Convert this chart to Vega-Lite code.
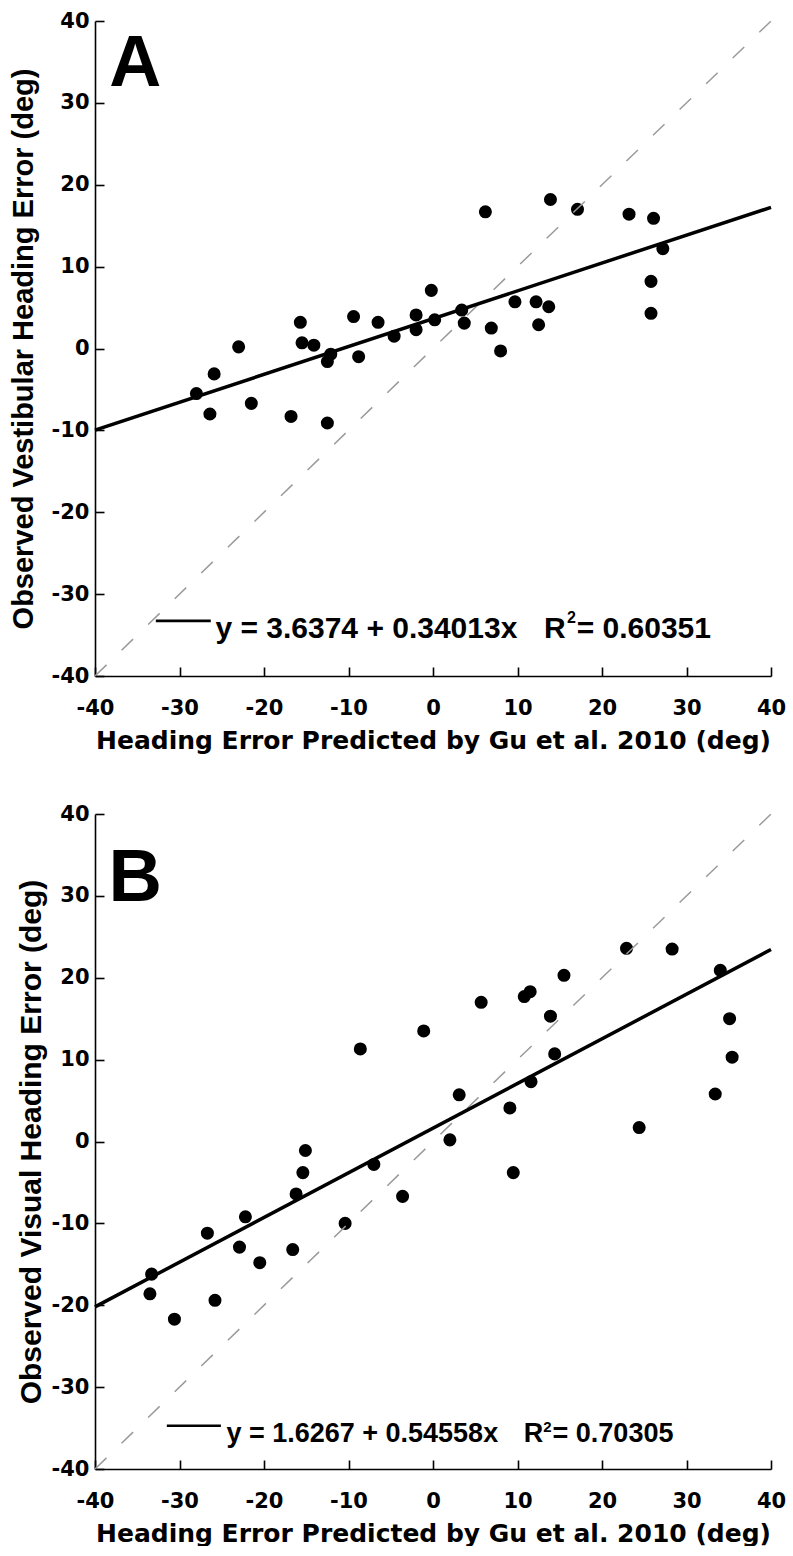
{
  "$schema": "https://vega.github.io/schema/vega-lite/v6.json",
  "padding": {"left": 9, "top": 10, "right": 0, "bottom": 0},
  "spacing": 50,
  "config": {
    "view": {"stroke": null},
    "axis": {"grid": false, "domainColor": "black", "domainWidth": 1.6, "tickColor": "black", "tickWidth": 1.6, "tickSize": -9, "labelFont": "DejaVu Sans", "labelFontWeight": "bold", "labelFontSize": 21, "labelColor": "black", "titleColor": "black", "titleFontWeight": "bold", "labelFlush": false, "labelOverlap": false, "labelExpr": "datum.value + ''"},
    "axisX": {"labelPadding": 30, "titleFont": "DejaVu Sans", "titleFontSize": 25, "titleBaseline": "alphabetic", "titleY": 72},
    "axisY": {"labelPadding": 15, "titleFont": "Liberation Sans", "titleBaseline": "alphabetic"}
  },
  "datasets": {
    "ptsA": [
      {"x": -28.0, "y": -5.5}, {"x": -26.4, "y": -8.0}, {"x": -25.9, "y": -3.1}, {"x": -23.0, "y": 0.2}, {"x": -21.5, "y": -6.7}, {"x": -16.8, "y": -8.3}, {"x": -15.7, "y": 3.2}, {"x": -15.5, "y": 0.7}, {"x": -14.1, "y": 0.4}, {"x": -12.5, "y": -1.6}, {"x": -12.1, "y": -0.7}, {"x": -12.5, "y": -9.1}, {"x": -9.4, "y": 3.9}, {"x": -8.8, "y": -1.0}, {"x": -6.5, "y": 3.2}, {"x": -4.6, "y": 1.5}, {"x": -2.0, "y": 4.1}, {"x": -2.0, "y": 2.3}, {"x": -0.2, "y": 7.1}, {"x": 0.2, "y": 3.5}, {"x": 3.4, "y": 4.7}, {"x": 3.7, "y": 3.1}, {"x": 6.2, "y": 16.7}, {"x": 6.9, "y": 2.5}, {"x": 8.0, "y": -0.3}, {"x": 9.7, "y": 5.7}, {"x": 12.2, "y": 5.7}, {"x": 13.7, "y": 5.1}, {"x": 12.5, "y": 2.9}, {"x": 13.9, "y": 18.2}, {"x": 17.1, "y": 17.0}, {"x": 23.2, "y": 16.4}, {"x": 26.1, "y": 15.9}, {"x": 27.2, "y": 12.2}, {"x": 25.8, "y": 8.2}, {"x": 25.8, "y": 4.3}
    ],
    "ptsB": [
      {"x": -33.3, "y": -16.2}, {"x": -33.5, "y": -18.6}, {"x": -30.6, "y": -21.7}, {"x": -26.7, "y": -11.2}, {"x": -25.8, "y": -19.4}, {"x": -22.9, "y": -12.9}, {"x": -22.2, "y": -9.2}, {"x": -20.5, "y": -14.8}, {"x": -16.6, "y": -13.2}, {"x": -16.2, "y": -6.4}, {"x": -15.4, "y": -3.8}, {"x": -15.1, "y": -1.1}, {"x": -10.4, "y": -10.0}, {"x": -8.6, "y": 11.3}, {"x": -7.0, "y": -2.8}, {"x": -3.6, "y": -6.7}, {"x": -1.1, "y": 13.5}, {"x": 2.0, "y": 0.2}, {"x": 3.1, "y": 5.7}, {"x": 5.7, "y": 17.0}, {"x": 9.1, "y": 4.1}, {"x": 9.5, "y": -3.8}, {"x": 10.8, "y": 17.7}, {"x": 11.5, "y": 18.3}, {"x": 11.6, "y": 7.3}, {"x": 13.9, "y": 15.3}, {"x": 14.4, "y": 10.7}, {"x": 15.5, "y": 20.3}, {"x": 22.9, "y": 23.6}, {"x": 24.4, "y": 1.7}, {"x": 28.3, "y": 23.5}, {"x": 33.4, "y": 5.8}, {"x": 34.0, "y": 20.9}, {"x": 35.1, "y": 15.0}, {"x": 35.4, "y": 10.3}
    ],
    "fitA": [{"x": -40, "y": -9.9678}, {"x": 40, "y": 17.2426}],
    "fitB": [{"x": -40, "y": -20.1965}, {"x": 40, "y": 23.4499}],
    "diag": [{"x": -40, "y": -40}, {"x": 40, "y": 40}],
    "one": [{"n": 1}]
  },
  "vconcat": [
    {
      "width": 676, "height": 655,
      "layer": [
        {
          "data": {"name": "ptsA"},
          "mark": {"type": "circle", "color": "black", "opacity": 1, "size": 170},
          "encoding": {
            "x": {"field": "x", "type": "quantitative", "scale": {"domain": [-40, 40], "nice": false, "zero": false}, "axis": {"title": "Heading Error Predicted by Gu et al. 2010 (deg)", "values": [-40, -30, -20, -10, 0, 10, 20, 30, 40]}},
            "y": {"field": "y", "type": "quantitative", "scale": {"domain": [-40, 40], "nice": false, "zero": false}, "axis": {"title": "Observed Vestibular Heading Error (deg)", "values": [-40, -30, -20, -10, 0, 10, 20, 30, 40], "titleX": -63, "titleFontSize": 29}}
          }
        },
        {
          "data": {"name": "diag"},
          "mark": {"type": "line", "color": "#9a9a9a", "strokeWidth": 1.5, "strokeDash": [16, 21]},
          "encoding": {
            "x": {"field": "x", "type": "quantitative"},
            "y": {"field": "y", "type": "quantitative"}
          }
        },
        {
          "data": {"name": "fitA"},
          "mark": {"type": "line", "color": "black", "strokeWidth": 3.5},
          "encoding": {
            "x": {"field": "x", "type": "quantitative"},
            "y": {"field": "y", "type": "quantitative"}
          }
        },
        {
          "data": {"name": "one"},
          "mark": {"type": "rule", "color": "black", "strokeWidth": 2.7},
          "encoding": {
            "x": {"datum": -32.8},
            "x2": {"datum": -26.3},
            "y": {"datum": -33.26}
          }
        },
        {
          "data": {"name": "one"},
          "mark": {"type": "text", "font": "Liberation Sans", "fontWeight": "bold", "fontSize": 30, "align": "left", "baseline": "alphabetic", "color": "black"},
          "encoding": {
            "x": {"datum": -25.75},
            "y": {"datum": -35.3},
            "text": {"value": "y = 3.6374 + 0.34013x"}
          }
        },
        {
          "data": {"name": "one"},
          "mark": {"type": "text", "font": "Liberation Sans", "fontWeight": "bold", "fontSize": 30, "align": "left", "baseline": "alphabetic", "color": "black"},
          "encoding": {
            "x": {"datum": 13.15},
            "y": {"datum": -35.3},
            "text": {"value": "R"}
          }
        },
        {
          "data": {"name": "one"},
          "mark": {"type": "text", "font": "Liberation Sans", "fontWeight": "bold", "fontSize": 16, "align": "left", "baseline": "alphabetic", "color": "black"},
          "encoding": {
            "x": {"datum": 15.85},
            "y": {"datum": -33.5},
            "text": {"value": "2"}
          }
        },
        {
          "data": {"name": "one"},
          "mark": {"type": "text", "font": "Liberation Sans", "fontWeight": "bold", "fontSize": 30, "align": "left", "baseline": "alphabetic", "color": "black"},
          "encoding": {
            "x": {"datum": 17.0},
            "y": {"datum": -35.3},
            "text": {"value": "= 0.60351"}
          }
        },
        {
          "data": {"name": "one"},
          "mark": {"type": "text", "font": "Liberation Sans", "fontWeight": "bold", "fontSize": 72, "align": "left", "baseline": "alphabetic", "color": "black"},
          "encoding": {
            "x": {"datum": -38.3},
            "y": {"datum": 32.06},
            "text": {"value": "A"}
          }
        }
      ]
    },
    {
      "width": 676, "height": 655,
      "layer": [
        {
          "data": {"name": "ptsB"},
          "mark": {"type": "circle", "color": "black", "opacity": 1, "size": 170},
          "encoding": {
            "x": {"field": "x", "type": "quantitative", "scale": {"domain": [-40, 40], "nice": false, "zero": false}, "axis": {"title": "Heading Error Predicted by Gu et al. 2010 (deg)", "values": [-40, -30, -20, -10, 0, 10, 20, 30, 40]}},
            "y": {"field": "y", "type": "quantitative", "scale": {"domain": [-40, 40], "nice": false, "zero": false}, "axis": {"title": "Observed Visual Heading Error (deg)", "values": [-40, -30, -20, -10, 0, 10, 20, 30, 40], "titleX": -54.5, "titleFontSize": 30}}
          }
        },
        {
          "data": {"name": "diag"},
          "mark": {"type": "line", "color": "#9a9a9a", "strokeWidth": 1.5, "strokeDash": [16, 21]},
          "encoding": {
            "x": {"field": "x", "type": "quantitative"},
            "y": {"field": "y", "type": "quantitative"}
          }
        },
        {
          "data": {"name": "fitB"},
          "mark": {"type": "line", "color": "black", "strokeWidth": 3.5},
          "encoding": {
            "x": {"field": "x", "type": "quantitative"},
            "y": {"field": "y", "type": "quantitative"}
          }
        },
        {
          "data": {"name": "one"},
          "mark": {"type": "rule", "color": "black", "strokeWidth": 2.7},
          "encoding": {
            "x": {"datum": -31.5},
            "x2": {"datum": -25.1},
            "y": {"datum": -34.72}
          }
        },
        {
          "data": {"name": "one"},
          "mark": {"type": "text", "font": "Liberation Sans", "fontWeight": "bold", "fontSize": 27, "align": "left", "baseline": "alphabetic", "color": "black"},
          "encoding": {
            "x": {"datum": -24.45},
            "y": {"datum": -36.7},
            "text": {"value": "y = 1.6267 + 0.54558x"}
          }
        },
        {
          "data": {"name": "one"},
          "mark": {"type": "text", "font": "Liberation Sans", "fontWeight": "bold", "fontSize": 27, "align": "left", "baseline": "alphabetic", "color": "black"},
          "encoding": {
            "x": {"datum": 10.75},
            "y": {"datum": -36.7},
            "text": {"value": "R"}
          }
        },
        {
          "data": {"name": "one"},
          "mark": {"type": "text", "font": "Liberation Sans", "fontWeight": "bold", "fontSize": 15, "align": "left", "baseline": "alphabetic", "color": "black"},
          "encoding": {
            "x": {"datum": 13.05},
            "y": {"datum": -35.5},
            "text": {"value": "2"}
          }
        },
        {
          "data": {"name": "one"},
          "mark": {"type": "text", "font": "Liberation Sans", "fontWeight": "bold", "fontSize": 27, "align": "left", "baseline": "alphabetic", "color": "black"},
          "encoding": {
            "x": {"datum": 14.15},
            "y": {"datum": -36.7},
            "text": {"value": "= 0.70305"}
          }
        },
        {
          "data": {"name": "one"},
          "mark": {"type": "text", "font": "Liberation Sans", "fontWeight": "bold", "fontSize": 74, "align": "left", "baseline": "alphabetic", "color": "black"},
          "encoding": {
            "x": {"datum": -38.4},
            "y": {"datum": 29.35},
            "text": {"value": "B"}
          }
        }
      ]
    }
  ]
}
